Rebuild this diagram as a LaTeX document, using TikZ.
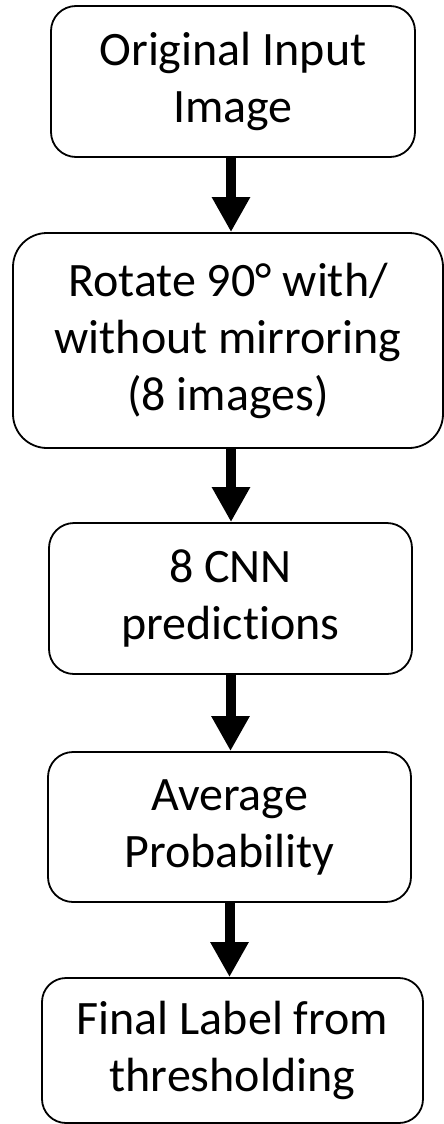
\documentclass[tikz,border=0pt]{standalone}
\usepackage{fontspec}
\setmainfont[Ligatures=NoCommon]{Carlito}
\usetikzlibrary{arrows.meta}
\begin{document}
\begin{tikzpicture}[x=1pt,y=-1pt,
  stepbox/.style={draw=black, line width=1.8pt, fill=white, align=center,
    inner sep=0pt, font=\fontsize{48}{57}\selectfont},
  flow/.style={line width=10pt, -{Triangle[width=36pt,length=35pt]}}]
\useasboundingbox (0,0) rectangle (444,1124);

% process steps, top to bottom
\node[stepbox, rounded corners=25pt, minimum width=364pt, minimum height=151pt]
  (b1) at (233,81.5) {Original Input\\Image};
\node[stepbox, rounded corners=34pt, minimum width=430pt, minimum height=215pt]
  (b2) at (228,340.5) {Rotate 90° with/\\without mirroring\\(8 images)};
\node[stepbox, rounded corners=25pt, minimum width=363pt, minimum height=151pt]
  (b3) at (230.5,598.5) {8 CNN\\predictions};
\node[stepbox, rounded corners=25pt, minimum width=363pt, minimum height=150pt]
  (b4) at (229.5,827) {Average\\Probability};
\node[stepbox, rounded corners=24pt, minimum width=381pt, minimum height=145pt]
  (b5) at (232.5,1050.5) {Final Label from\\thresholding};

% arrows between the steps
\draw[flow] ([xshift=-2pt]b1.south) -- ([xshift=-2pt]b1.south |- b2.north);
\draw[flow] ([xshift=3pt]b2.south) -- ([xshift=3pt]b2.south |- b3.north);
\draw[flow] (b3.south) -- (b3.south |- b4.north);
\draw[flow] (b4.south) -- (b4.south |- b5.north);
\end{tikzpicture}
\end{document}
